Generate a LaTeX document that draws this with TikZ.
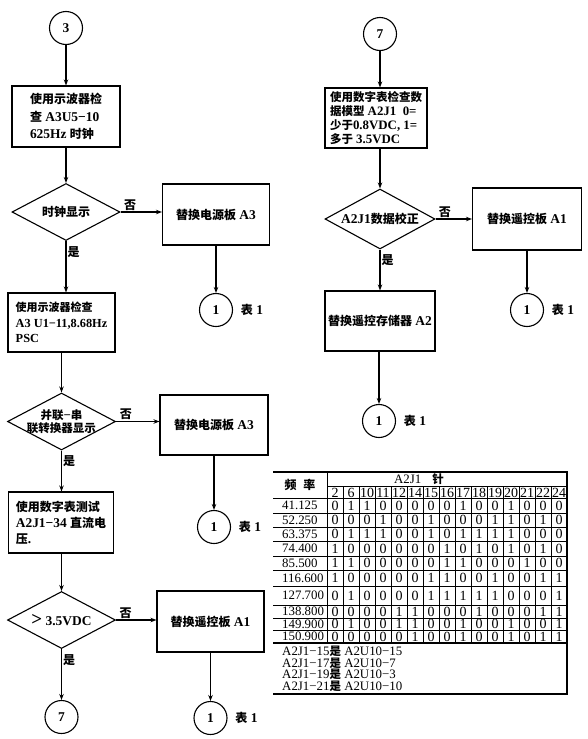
\documentclass[tikz,border=0pt]{standalone}
\usepackage{fontspec}
\setmainfont{Liberation Serif}[Scale=1.12]
\newfontfamily\cjk{Noto Sans CJK SC}
\newcommand{\zh}[1]{{\cjk\bfseries #1}}
\usetikzlibrary{shapes.geometric,arrows.meta,positioning}

\begin{document}
\begin{tikzpicture}[x=1pt,y=-1pt,
    every node/.style={font=\bfseries\fontsize{12}{16}\selectfont},
    stepbox/.style={draw,line width=1.1pt,rectangle,align=left,inner xsep=4pt,inner ysep=2pt},
    swapbox/.style={draw,line width=1.1pt,rectangle,align=center,inner sep=2pt},
    test/.style={draw,line width=1.1pt,diamond,align=center,inner sep=-4pt,aspect=1.9,minimum width=108pt,minimum height=57pt},
    joint/.style={draw,line width=1.1pt,circle,inner sep=0pt,minimum size=33pt,font=\bfseries\fontsize{12}{12}\selectfont},
    flow/.style={line width=1.1pt,-{Stealth[length=6pt,width=4.5pt]}},
    notag/.style={above right,inner sep=1pt,pos=0.05},
    yestag/.style={below right,inner sep=1pt,pos=0.08},
    cell/.style={inner sep=0pt,font=\fontsize{11.5}{11.5}\selectfont},
    bitcell/.style={inner sep=0pt,font=\fontsize{12.5}{12.5}\selectfont},
    grid/.style={line width=0.8pt},
    frame/.style={line width=1.2pt}]
  \useasboundingbox (0,0) rectangle (588,739);

  \node[joint] (C3) at (66,28) {3};
  \node[stepbox,minimum width=108pt,minimum height=61pt,font=\bfseries\fontsize{12}{17.5}\selectfont] (B1) at (66,116.5)
    {\zh{使用示波器检}\\\zh{查} A3U5−10\\ 625Hz \zh{时钟}};
  \node[test] (D1) at (66,212) {\zh{时钟显示}};
  \node[swapbox,minimum width=107pt,minimum height=61pt] (R1) at (216,214.5) {\zh{替换电源板} A3};
  \node[joint] (T1) at (216,310) {1};
  \node (L1) [right=4pt of T1] {\zh{表} 1};

  \node[stepbox,inner xsep=2pt,minimum width=107pt,minimum height=59pt,font=\bfseries\fontsize{11}{15.5}\selectfont] (B2) at (61.5,322.5)
    {\zh{使用示波器检查}\\A3 U1−11,8.68Hz\\PSC};
  \node[test,font=\bfseries\fontsize{11.5}{13}\selectfont] (D2) at (61.5,421.5) {\zh{并联}−\zh{串}\\\zh{联转换器显示}};
  \node[swapbox,minimum width=108pt,minimum height=60pt] (R2) at (214,425) {\zh{替换电源板} A3};
  \node[joint] (T2) at (214,527) {1};
  \node (L2) [right=4pt of T2] {\zh{表} 1};

  \node[stepbox,minimum width=105pt,minimum height=61pt] (B3) at (61,522.5)
    {\zh{使用数字表测试}\\A2J1−34 \zh{直流电}\\\zh{压}.};
  \node[test] (D3) at (61.5,620) {{\fontsize{17}{17}\selectfont >} 3.5VDC};
  \node[swapbox,minimum width=107pt,minimum height=61pt] (R3) at (210.5,621.5) {\zh{替换遥控板} A1};
  \node[joint] (T3) at (210.5,718) {1};
  \node (L3) [right=4pt of T3] {\zh{表} 1};
  \node[joint] (C7) at (61.5,717) {7};

  \node[joint] (K7) at (380,34) {7};
  \node[stepbox,minimum width=102pt,minimum height=60pt,font=\bfseries\fontsize{11.5}{14}\selectfont] (B4) at (376,118)
    {\zh{使用数字表检查数}\\\zh{据模型} A2J1\ \ 0=\\\zh{少于}0.8VDC, 1=\\ \zh{多于} 3.5VDC};
  \node[test,minimum width=110pt,minimum height=60pt] (D4) at (380,219) {A2J1\zh{数据校正}};
  \node[swapbox,minimum width=109pt,minimum height=62pt] (R4) at (527,219) {\zh{替换遥控板} A1};
  \node[joint] (T4) at (527,310) {1};
  \node (L4) [right=4pt of T4] {\zh{表} 1};
  \node[swapbox,minimum width=110pt,minimum height=60pt] (B5) at (380,321) {\zh{替换遥控存储器} A2};
  \node[joint] (T5) at (379,421) {1};
  \node (L5) [right=4pt of T5] {\zh{表} 1};

  \draw[flow] (C3) -- (B1);
  \draw[flow] (B1) -- (D1);
  \draw[flow] (D1.east) -- node[notag] (n1) {\zh{否}} (D1.east -| R1.west);
  \draw[flow] (D1) -- node[yestag] (y1) {\zh{是}} (D1 |- B2.north);
  \draw[flow] (R1) -- (T1);
  \draw[flow] (B2) -- (D2);
  \draw[flow] (D2.east) -- node[notag] (n2) {\zh{否}} (D2.east -| R2.west);
  \draw[flow] (D2) -- node[yestag] (y2) {\zh{是}} (D2 |- B3.north);
  \draw[flow] (R2) -- (T2);
  \draw[flow] (B3.south -| D3) -- (D3);
  \draw[flow] (D3.east) -- node[notag] (n3) {\zh{否}} (D3.east -| R3.west);
  \draw[flow] (D3) -- node[yestag] (y3) {\zh{是}} (C7);
  \draw[flow] (R3) -- (T3);

  \draw[flow] (K7) -- (K7 |- B4.north);
  \draw[flow] (B4.south -| D4) -- (D4);
  \draw[flow] (D4) -- node[notag] (n4) {\zh{否}} (R4);
  \draw[flow] (D4) -- node[yestag] (y4) {\zh{是}} (B5);
  \draw[flow] (R4) -- (T4);
  \draw[flow] (B5.south -| T5) -- (T5);

  \draw[frame] (273,472) -- (567,472) -- (567,694) -- (273,694);
  \draw[frame] (273,643) -- (567,643);
  \draw[grid] (327,486.5) -- (567,486.5);
  \draw[grid] (327,472) -- (327,643);
  \foreach \yy in {498,513,527,541,556,570,586,605,618,630}
    \draw[grid] (273,\yy) -- (567,\yy);
  \foreach \col in {1,...,14}
    \draw[grid] (327+16*\col,486.5) -- (327+16*\col,643);

  \node (H) at (300,485) {\zh{频}\hspace{7pt}\zh{率}};
  \node[cell] (P) at (419,479) {A2J1\hspace{11pt}\zh{针}};
  \foreach \pin [count=\col] in {2,6,10,11,12,14,15,16,17,18,19,20,21,22,24}
    \node[bitcell] (N\col) at (319+16*\col,492.5) {\pin};
  \foreach \fr/\yy/\bits [count=\row] in {
      41.125/505.5/{0,1,1,0,0,0,0,0,1,0,0,1,0,0,0},
      52.250/520/{0,0,0,1,0,0,1,0,0,0,1,1,0,1,0},
      63.375/534/{0,1,1,1,0,0,1,0,1,1,1,1,0,0,0},
      74.400/548.5/{1,0,0,0,0,0,0,1,0,1,0,1,0,1,0},
      85.500/563/{1,1,0,0,0,0,0,1,1,0,0,0,1,0,0},
      116.600/578/{1,0,0,0,0,0,1,1,0,0,1,0,0,1,1},
      127.700/595.5/{0,1,0,0,0,0,1,1,1,1,1,0,0,0,1},
      138.800/611.5/{0,0,0,0,1,1,0,0,0,1,0,0,0,1,1},
      149.900/624/{0,1,0,0,1,1,0,0,1,0,0,1,0,0,1},
      150.900/636.5/{0,0,0,0,0,1,0,0,1,0,0,1,0,1,1}} {
    \node[cell,anchor=west] (F\row) at (282,\yy) {\fr};
    \foreach \bit [count=\col] in \bits
      \node[bitcell] (V\row-\col) at (319+16*\col,\yy) {\bit};
  }
  \node[cell,anchor=north west,align=left,font=\fontsize{11.5}{10.5}\selectfont] (M) at (282,646)
    {A2J1−15\zh{是} A2U10−15\\A2J1−17\zh{是} A2U10−7\\A2J1−19\zh{是} A2U10−3\\A2J1−21\zh{是} A2U10−10};
\end{tikzpicture}
\end{document}
